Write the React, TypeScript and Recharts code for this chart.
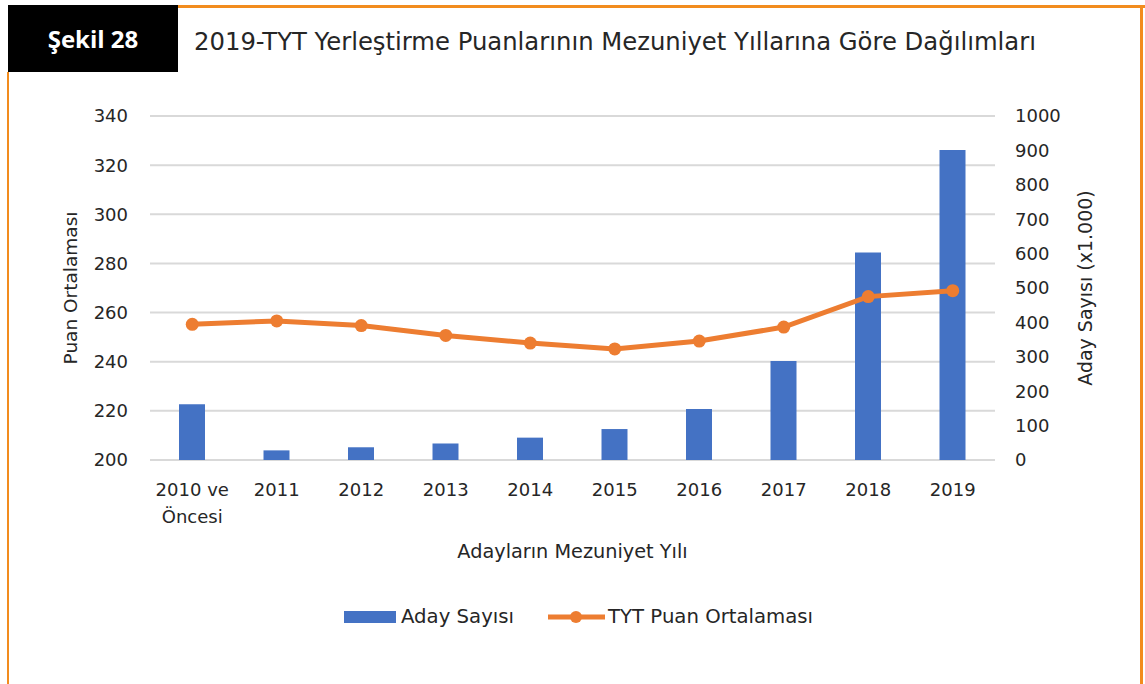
import React from 'react';
import {
  ComposedChart,
  Bar,
  Line,
  XAxis,
  YAxis,
  CartesianGrid,
  Legend,
} from 'recharts';

const categories = [
  '2010 ve\nÖncesi',
  '2011',
  '2012',
  '2013',
  '2014',
  '2015',
  '2016',
  '2017',
  '2018',
  '2019',
];
const adaySayisi = [162, 28, 37, 48, 65, 90, 148, 288, 603, 901];
const tytPuan = [255.2, 256.6, 254.7, 250.7, 247.6, 245.2, 248.4, 254.1, 266.5, 268.9];
const leftTicks = [200, 220, 240, 260, 280, 300, 320, 340];
const rightTicks = [0, 100, 200, 300, 400, 500, 600, 700, 800, 900, 1000];

const data = categories.map((c, i) => ({
  name: c,
  aday: adaySayisi[i],
  tyt: tytPuan[i],
}));

const FONT = '"DejaVu Sans", sans-serif';
const TEXT = '#262626';
const BLUE = '#4472C4';
const ORANGE = '#ED7D31';
const ORANGE_FRAME = '#F28C1E';

const XTick = (props: any) => {
  const { x, payload } = props;
  const lines = String(payload.value).split('\n');
  return (
    <g>
      {lines.map((l: string, i: number) => (
        <text
          key={i}
          x={x}
          y={496 + i * 27}
          textAnchor="middle"
          fill={TEXT}
          fontSize={18}
          fontFamily={FONT}
        >
          {l}
        </text>
      ))}
    </g>
  );
};

const LeftLabel = (props: any) => {
  const vb = props.viewBox || { x: 0, y: 116, width: 150, height: 344 };
  const cx = vb.x + 70;
  const cy = vb.y + vb.height / 2;
  return (
    <text
      x={cx}
      y={cy}
      transform={`rotate(-90 ${cx} ${cy})`}
      textAnchor="middle"
      dominantBaseline="central"
      fill={TEXT}
      fontSize={18.5}
      fontFamily={FONT}
    >
      Puan Ortalaması
    </text>
  );
};

const RightLabel = (props: any) => {
  const vb = props.viewBox || { x: 995, y: 116, width: 150, height: 344 };
  const cx = vb.x + 90;
  const cy = vb.y + vb.height / 2;
  return (
    <text
      x={cx}
      y={cy}
      transform={`rotate(-90 ${cx} ${cy})`}
      textAnchor="middle"
      dominantBaseline="central"
      fill={TEXT}
      fontSize={19}
      fontFamily={FONT}
    >
      Aday Sayısı (x1.000)
    </text>
  );
};

const BottomLabel = (props: any) => {
  const vb = props.viewBox || { x: 150, y: 460, width: 845, height: 100 };
  return (
    <text
      x={vb.x + vb.width / 2}
      y={551}
      textAnchor="middle"
      dominantBaseline="central"
      fill={TEXT}
      fontSize={19.3}
      fontFamily={FONT}
    >
      Adayların Mezuniyet Yılı
    </text>
  );
};

const LegendContent = () => (
  <div
    style={{
      display: 'flex',
      justifyContent: 'flex-start',
      alignItems: 'center',
      fontFamily: FONT,
      fontSize: 19.7,
      color: TEXT,
      lineHeight: '24px',
      whiteSpace: 'nowrap',
    }}
  >
    <div style={{ display: 'flex', alignItems: 'center', marginRight: 34 }}>
      <svg width={52} height={12} style={{ marginRight: 5, display: 'block' }}>
        <rect x={0} y={0} width={52} height={12} fill={BLUE} />
      </svg>
      <span>Aday Sayısı</span>
    </div>
    <div style={{ display: 'flex', alignItems: 'center' }}>
      <svg width={57} height={14} style={{ marginRight: 3, display: 'block' }}>
        <line x1={0} y1={7} x2={57} y2={7} stroke={ORANGE} strokeWidth={5} strokeLinecap="round" />
        <circle cx={28} cy={7} r={6} fill={ORANGE} />
      </svg>
      <span>TYT Puan Ortalaması</span>
    </div>
  </div>
);

export default function App() {
  return (
    <div style={{ position: 'relative', width: 1145, height: 684, background: '#fff', overflow: 'hidden' }}>
      <style>{`body{margin:0}`}</style>
      {/* frame */}
      <div style={{ position: 'absolute', left: 178, top: 5, width: 967, height: 3, background: ORANGE_FRAME }} />
      <div style={{ position: 'absolute', left: 7, top: 72, width: 2, height: 612, background: ORANGE_FRAME }} />
      <div style={{ position: 'absolute', left: 1140, top: 5, width: 3, height: 679, background: ORANGE_FRAME }} />
      {/* title box */}
      <div
        style={{
          position: 'absolute',
          left: 8,
          top: 5,
          width: 170,
          height: 67,
          background: '#000',
          color: '#fff',
          fontFamily: '"Open Sans", sans-serif',
          fontWeight: 700,
          fontSize: 24,
          display: 'flex',
          alignItems: 'center',
          justifyContent: 'center',
        }}
      >
        Şekil 28
      </div>
      <div
        style={{
          position: 'absolute',
          left: 194,
          top: 27,
          fontFamily: FONT,
          fontSize: 24.3,
          color: TEXT,
          whiteSpace: 'nowrap',
          lineHeight: '30px',
        }}
      >
        2019-TYT Yerleştirme Puanlarının Mezuniyet Yıllarına Göre Dağılımları
      </div>
      <div style={{ position: 'absolute', left: 0, top: 0 }}>
        <ComposedChart
          width={1145}
          height={684}
          data={data}
          margin={{ top: 116, right: 0, bottom: 124, left: 0 }}
        >
          <CartesianGrid yAxisId="left" vertical={false} stroke="#D9D9D9" strokeWidth={2} />
          <XAxis
            dataKey="name"
            axisLine={false}
            tickLine={false}
            tick={<XTick />}
            height={100}
            interval={0}
            label={<BottomLabel />}
          />
          <YAxis
            yAxisId="left"
            orientation="left"
            width={150}
            domain={[200, 340]}
            ticks={leftTicks}
            axisLine={false}
            tickLine={false}
            tickSize={0}
            tickMargin={22}
            tick={{ fill: TEXT, fontSize: 18, fontFamily: FONT }}
            label={<LeftLabel />}
          />
          <YAxis
            yAxisId="right"
            orientation="right"
            width={150}
            domain={[0, 1000]}
            ticks={rightTicks}
            axisLine={false}
            tickLine={false}
            tickSize={0}
            tickMargin={20}
            tick={{ fill: TEXT, fontSize: 18, fontFamily: FONT, textAnchor: 'start' }}
            label={<RightLabel />}
          />
          <Bar
            yAxisId="right"
            dataKey="aday"
            name="Aday Sayısı"
            fill={BLUE}
            barSize={26}
            isAnimationActive={false}
          />
          <Line
            yAxisId="left"
            dataKey="tyt"
            name="TYT Puan Ortalaması"
            stroke={ORANGE}
            strokeWidth={5}
            dot={{ r: 6.5, fill: ORANGE, stroke: ORANGE, strokeWidth: 0 }}
            activeDot={false}
            isAnimationActive={false}
          />
          <Legend
            verticalAlign="middle"
            align="center"
            layout="horizontal"
            content={<LegendContent />}
            wrapperStyle={{ top: 605, left: 344, width: 'auto' }}
          />
        </ComposedChart>
      </div>
    </div>
  );
}
